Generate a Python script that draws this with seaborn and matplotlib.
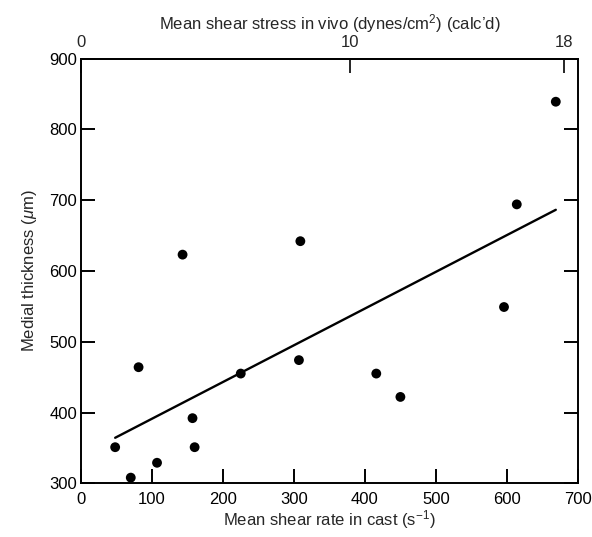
import numpy as np
import pandas as pd
import matplotlib
matplotlib.use("Agg")
import matplotlib.pyplot as plt
import seaborn as sns

# values
shear_rate = [48, 70, 81, 107, 143, 157, 160, 225, 307, 309, 416, 450, 596, 614, 669]
thickness = [351, 308, 464, 329, 623, 392, 351, 455, 474, 642, 455, 422, 549, 694, 839]

x_ticks = [0, 100, 200, 300, 400, 500, 600, 700]
y_ticks = [300, 400, 500, 600, 700, 800, 900]
stress_ticks = [0, 10, 18]
rate_at_18 = 681  # s^-1 that lines up with 18 dynes/cm2 on the top scale

df = pd.DataFrame({"rate": shear_rate, "thickness": thickness})

sns.set_style("ticks")
plt.rcParams['font.family'] = ['Liberation Sans', 'DejaVu Sans']
plt.rcParams['mathtext.fontset'] = 'custom'
plt.rcParams['mathtext.rm'] = 'Liberation Sans'
plt.rcParams['mathtext.it'] = 'Liberation Sans:italic'

fig = plt.figure(figsize=(5.92, 5.37), dpi=100)
ax = fig.add_axes([0.137, 0.100, 0.839, 0.791])

sns.regplot(data=df, x="rate", y="thickness", ax=ax, ci=None, truncate=True,
            color="black",
            scatter_kws={"s": 50, "color": "black", "edgecolor": "none", "alpha": 1},
            line_kws={"color": "black", "linewidth": 1.7})

ax.set_xlim(0, 700)
ax.set_ylim(300, 900)
ax.set_xticks(x_ticks)
ax.set_yticks(y_ticks)

for side in ["left", "right", "top", "bottom"]:
    ax.spines[side].set_visible(True)
    ax.spines[side].set_linewidth(1.4)
    ax.spines[side].set_color("black")

ax.tick_params(axis="both", direction="in", length=10, width=1.4, labelsize=12,
               colors="black")
ax.tick_params(axis="x", pad=6)
ax.tick_params(axis="y", pad=3, right=True, labelright=False)

ax.set_xlabel("Mean shear rate in cast (s$^{-1}$)", fontsize=12, labelpad=1)
ax.set_ylabel("Medial thickness ($\\mu$m)", fontsize=12, labelpad=7)

top = ax.secondary_xaxis("top", functions=(lambda r: r * 18 / rate_at_18,
                                             lambda s: s * rate_at_18 / 18))
top.set_xticks(stress_ticks)
top.tick_params(direction="in", length=10, width=1.4, labelsize=12, pad=6)
top.spines["top"].set_linewidth(1.4)
top.set_xlabel("Mean shear stress in vivo (dynes/cm$^2$) (calc\u2019d)",
               fontsize=12, labelpad=4)

fig.savefig("out.png", dpi=100)
